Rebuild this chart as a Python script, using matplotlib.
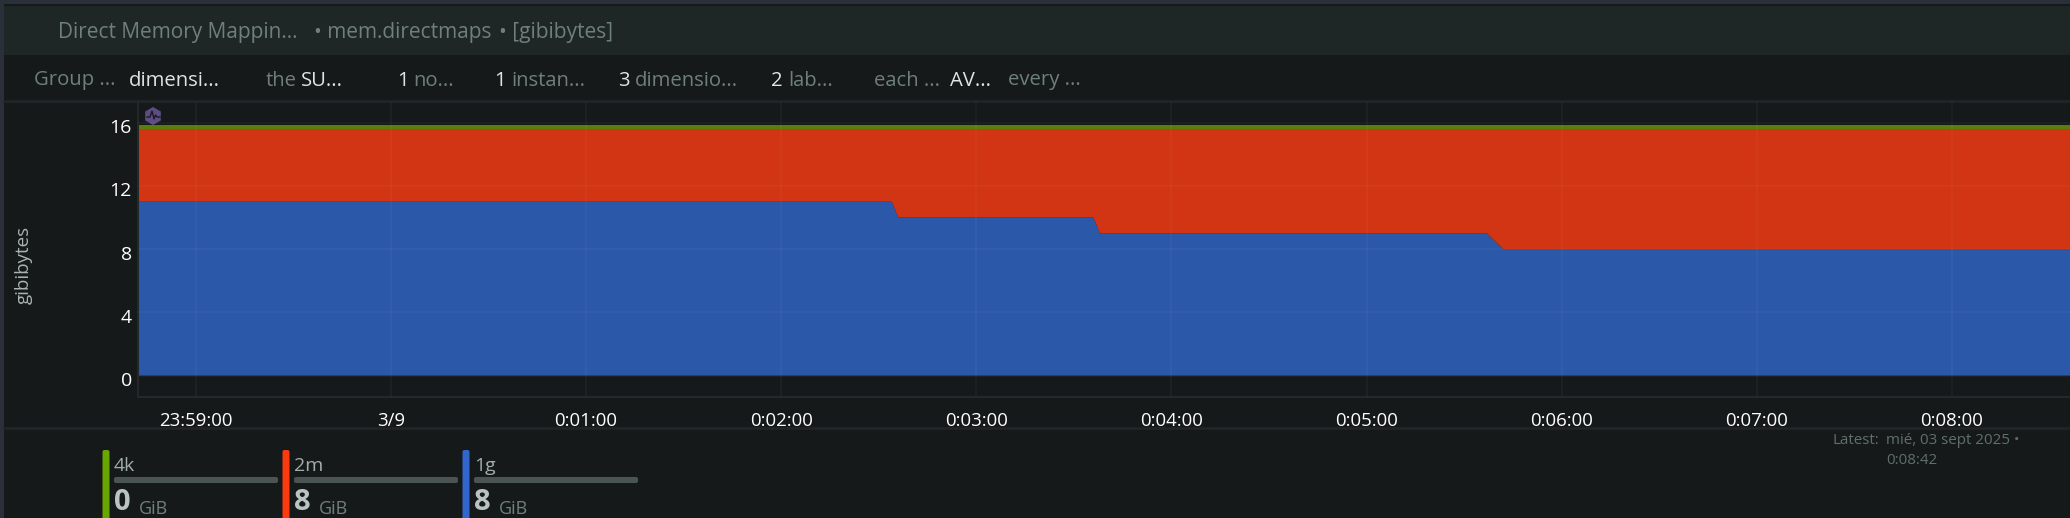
import matplotlib
matplotlib.use("Agg")
import matplotlib.pyplot as plt
from matplotlib.patches import Rectangle, FancyBboxPatch, RegularPolygon

plt.rcParams["font.family"] = ["Open Sans", "DejaVu Sans"]

W, H = 2070, 518

# Data (seconds from 3/9 0:00:00, stacked values in GiB)
seconds = [-78, 154, 156, 216, 218, 337, 342, 517]
dim_1g = [11, 11, 10, 10, 9, 9, 8, 8]
dim_2m = [4.6, 4.6, 5.6, 5.6, 6.6, 6.6, 7.6, 7.6]
dim_4k = [0.25, 0.25, 0.25, 0.25, 0.25, 0.25, 0.25, 0.25]

y_ticks = [0, 4, 8, 12, 16]
x_ticks = [-60, 0, 60, 120, 180, 240, 300, 360, 420, 480]
x_labels = ["23:59:00", "3/9", "0:01:00", "0:02:00", "0:03:00", "0:04:00",
            "0:05:00", "0:06:00", "0:07:00", "0:08:00"]

legend_names = ["4k", "2m", "1g"]
legend_values = ["0", "8", "8"]
legend_colors = ["#6aa600", "#fb3a10", "#3366cc"]

toolbar = [
    (34, "Group ...", "#6f7f7c"), (129, "dimensi...", "#dfe5e3"),
    (266, "the", "#6f7f7c"), (301, "SU...", "#dfe5e3"),
    (397, "1", "#dfe5e3"), (413, "no...", "#6f7f7c"),
    (494, "1", "#dfe5e3"), (511, "instan...", "#6f7f7c"),
    (618, "3", "#dfe5e3"), (635, "dimensio...", "#6f7f7c"),
    (771, "2", "#dfe5e3"), (788, "lab...", "#6f7f7c"),
    (874, "each ...", "#6f7f7c"), (950, "AV...", "#dfe5e3"),
    (1008, "every ...", "#6f7f7c"),
]

fig = plt.figure(figsize=(W / 100, H / 100), dpi=100, facecolor="#15191a")

# Background layer in pixel coordinates
bg = fig.add_axes([0, 0, 1, 1])
bg.set_xlim(0, W)
bg.set_ylim(H, 0)
bg.axis("off")
bg.add_patch(Rectangle((0, 0), W, 4, color="#2b2f3a", lw=0))
bg.add_patch(Rectangle((0, 0), 4, H, color="#2b2f3a", lw=0))
bg.add_patch(Rectangle((4, 6), W, 49, color="#1f2626", lw=0))
bg.plot([4, W], [100.5, 100.5], color="#202628", lw=2)
bg.plot([4, W], [428, 428], color="#202628", lw=2)

bg.text(58, 32.5, "Direct Memory Mappin...", color="#6f7f7c", fontsize=15, va="center")
bg.text(314, 32.5, "• mem.directmaps", color="#6f7f7c", fontsize=15, va="center")
bg.text(499, 32.5, "• [gibibytes]", color="#6f7f7c", fontsize=15, va="center")

for x, txt, col in toolbar:
    bg.text(x, 80.5, txt, color=col, fontsize=14.6, va="center")

bg.text(24, 265, "gibibytes", color="#a9b5b2", fontsize=13.5, rotation=90,
        ha="center", va="center")

# Chart, y scale is 15.8 px per GiB, x scale is 195.1 px per minute
ax = fig.add_axes([138 / W, 1 - 397 / H, (W - 138) / W, (397 - 102) / H])
ax.set_facecolor("none")
ax.stackplot(seconds, dim_1g, dim_2m, dim_4k,
             colors=["#2c58aa", "#d13513", "#5a7d0c"], lw=0, zorder=2)
ax.set_xlim(-77.8, 516.3)
ax.set_ylim(-1.36, 17.31)
ax.set_xticks(x_ticks)
ax.set_yticks(y_ticks)
ax.set_xticklabels([])
ax.set_yticklabels([])
ax.tick_params(length=0)
ax.grid(True, color="#ffffff", alpha=0.03, lw=1.5, zorder=3)
ax.set_axisbelow(False)
for side in ["top", "right"]:
    ax.spines[side].set_visible(False)
for side in ["left", "bottom"]:
    ax.spines[side].set_color("#23282a")
    ax.spines[side].set_linewidth(1.5)

# Tick labels sit a little below their gridlines
for v in y_ticks:
    ax.annotate(str(v), (0, v), xycoords=("axes fraction", "data"),
                xytext=(-4.5, -4), textcoords="offset points",
                ha="right", va="center", color="#ffffff", fontsize=14)
for t, lab in zip(x_ticks, x_labels):
    ax.annotate(lab, (t, 0), xycoords=("data", "axes fraction"),
                xytext=(0, -17), textcoords="offset points",
                ha="center", va="center", color="#ffffff", fontsize=13.4)

# Badge
bg.set_zorder(0)
ax.set_zorder(1)
top = fig.add_axes([0, 0, 1, 1], facecolor="none")
top.set_xlim(0, W)
top.set_ylim(H, 0)
top.axis("off")
top.add_patch(RegularPolygon((153, 116), 6, radius=9, color="#5e4d85", lw=0))
top.plot([147, 150, 152, 154, 155.5, 157, 160], [117, 117, 111, 119, 115, 117, 117],
         color="#1a1a22", lw=1)

# Legend
for i, (name, val, col) in enumerate(zip(legend_names, legend_values, legend_colors)):
    x0 = [102.5, 282.5, 462.5][i]
    tx = x0 + 11.5
    top.add_patch(FancyBboxPatch((x0 + 2, 452), 3, 80, boxstyle="round,pad=2",
                                 color=col, lw=0, clip_on=True))
    top.text(tx, 466, name, color="#a2aeab", fontsize=14, va="center")
    top.add_patch(FancyBboxPatch((tx + 2, 479), 160, 2, boxstyle="round,pad=2",
                                 color="#4a5553", lw=0))
    top.text(tx, 503, val, color="#b9c4c1", fontsize=21, fontweight="bold", va="center")
    top.text(tx + 25, 509, "GiB", color="#6f7f7c", fontsize=13, va="center")

top.text(1833, 441, "Latest:", color="#5f6f6c", fontsize=10.9, va="center")
top.text(1886, 441, "mié, 03 sept 2025 •", color="#5f6f6c", fontsize=10.9, va="center")
top.text(1886, 461, "0:08:42", color="#5f6f6c", fontsize=10.9, va="center")

fig.savefig("out.png", dpi=100, facecolor=fig.get_facecolor())
